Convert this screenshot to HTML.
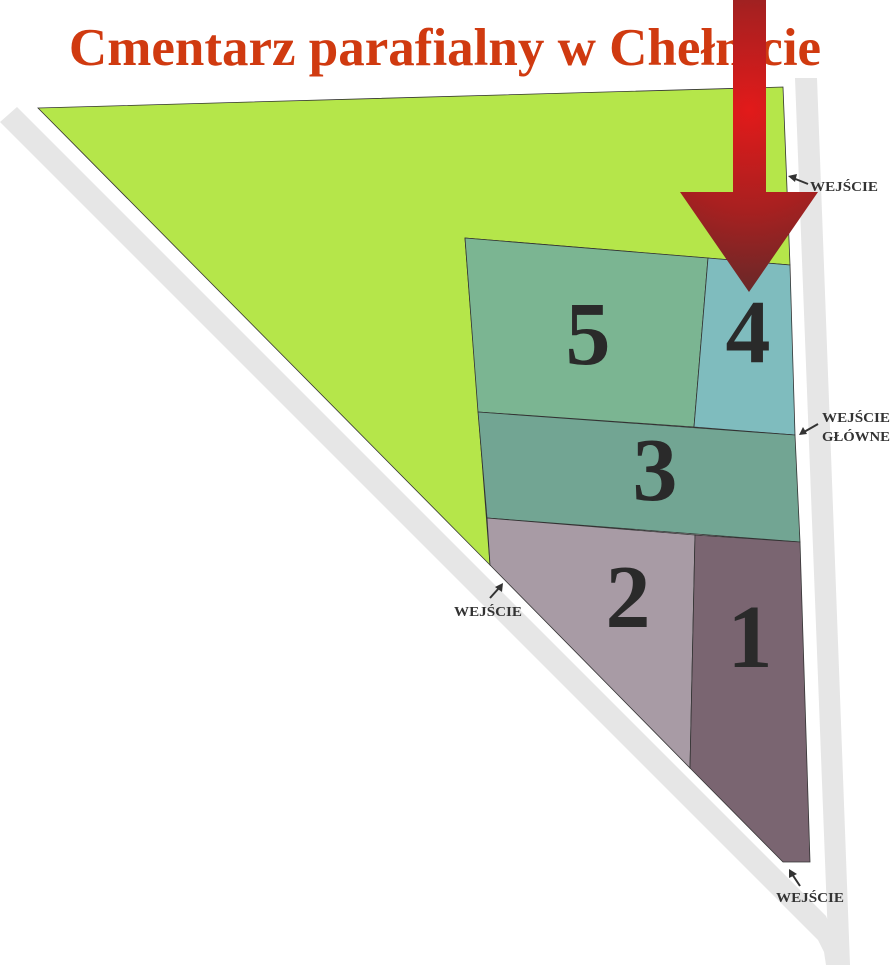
<!DOCTYPE html>
<html><head><meta charset="utf-8"><style>
html,body{margin:0;padding:0;background:#fff;}
svg{display:block}
</style></head><body>
<svg width="892" height="965" viewBox="0 0 892 965" xmlns="http://www.w3.org/2000/svg">
<defs>
<radialGradient id="ag" cx="749" cy="110" r="200" gradientUnits="userSpaceOnUse">
<stop offset="0" stop-color="#e21a1a"/><stop offset="0.5" stop-color="#a82020"/><stop offset="1" stop-color="#5a2a2a"/>
</radialGradient>
</defs>
<!-- roads -->
<polygon points="0,122 17,107 826,916 832,930 832,965 826,965 824,952 818,940 0,122" fill="#e6e6e6"/>
<polygon points="795,78 817,78 850,965 829,965" fill="#e6e6e6"/>
<!-- areas -->
<g stroke="#333" stroke-width="0.8">
<polygon points="38,108 783,87 790,265 465,238 490,565" fill="#b5e64a"/>
<polygon points="465,238 708,258 694,427 478,412" fill="#7bb592"/>
<polygon points="708,258 790,265 795,435 694,427" fill="#7fbcbe"/>
<polygon points="478,412 795,435 800,542 487,518" fill="#72a593"/>
<polygon points="487,518 695,535 690,768 490,565" fill="#a89ba5"/>
<polygon points="695,535 800,542 810,862 783,862 690,768" fill="#7a6571"/>
</g>
<g font-family="Liberation Serif, serif" font-weight="bold" fill="#2a2a2a" font-size="90" text-anchor="middle">
<text x="588" y="364">5</text>
<text x="748" y="362">4</text>
<text x="655" y="500">3</text>
<text x="628" y="627">2</text>
<text x="750" y="667">1</text>
</g>
<text x="445" y="65" font-family="Liberation Serif, serif" font-weight="bold" font-size="53" fill="#d03a10" text-anchor="middle">Cmentarz parafialny w Chełmcie</text>
<!-- arrow -->
<polygon points="733,0 766,0 766,192 818,192 749,292 680,192 733,192" fill="url(#ag)"/>
<!-- labels -->
<g font-family="Liberation Serif, serif" font-weight="bold" font-size="14" fill="#333">
<text x="810" y="191" textLength="68" lengthAdjust="spacingAndGlyphs">WEJŚCIE</text>
<text x="822" y="422" textLength="68" lengthAdjust="spacingAndGlyphs">WEJŚCIE</text>
<text x="822" y="441" textLength="68" lengthAdjust="spacingAndGlyphs">GŁÓWNE</text>
<text x="454" y="616" textLength="68" lengthAdjust="spacingAndGlyphs">WEJŚCIE</text>
<text x="776" y="902" textLength="68" lengthAdjust="spacingAndGlyphs">WEJŚCIE</text>
</g>
<g stroke="#333" stroke-width="2" fill="#333">
<line x1="808" y1="184" x2="793" y2="178"/><polygon points="788,176 797,174 795,182" stroke="none"/>
<line x1="818" y1="424" x2="804" y2="432"/><polygon points="799,435 803,427 807,434" stroke="none"/>
<line x1="490" y1="598" x2="499" y2="588"/><polygon points="503,583 502,592 495,587" stroke="none"/>
<line x1="800" y1="886" x2="792" y2="874"/><polygon points="789,869 797,874 789,878" stroke="none"/>
</g>
</svg>
</body></html>
